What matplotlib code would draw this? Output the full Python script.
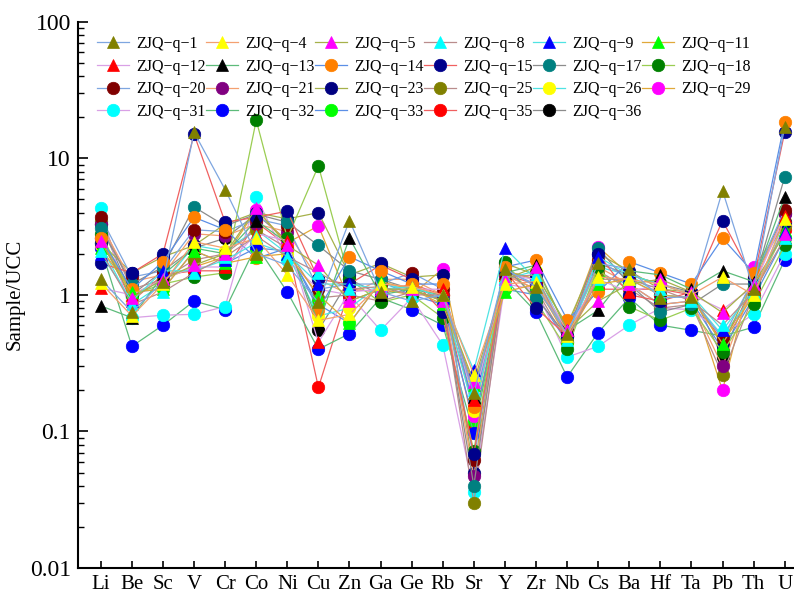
import numpy as np
import matplotlib
matplotlib.use('Agg')
import matplotlib.pyplot as plt
from matplotlib.ticker import LogLocator, NullFormatter, FixedLocator

plt.rcParams['font.family'] = ['Liberation Serif', 'DejaVu Serif']

elements = ['Li', 'Be', 'Sc', 'V', 'Cr', 'Co', 'Ni', 'Cu', 'Zn', 'Ga', 'Ge', 'Rb',
            'Sr', 'Y', 'Zr', 'Nb', 'Cs', 'Ba', 'Hf', 'Ta', 'Pb', 'Th', 'U']

samples = ['1', '4', '5', '8', '9', '11', '12', '13', '14', '15', '17', '18',
           '20', '21', '23', '25', '26', '29', '31', '32', '33', '35', '36']

# Sample/UCC values, one list per sample, in element order
q1 = [1.3, 0.75, 1.25, 15.5, 5.9, 2.0, 1.65, 0.88, 3.5, 1.05, 0.9, 1.0, 0.19, 1.55, 1.15, 0.52, 1.7, 1.55, 0.95, 0.97, 5.8, 1.1, 17]
q4 = [1.22, 0.7, 1.2, 2.45, 2.2, 2.6, 1.4, 0.65, 0.72, 1.2, 1.15, 1.0, 0.26, 1.2, 1.25, 0.5, 1.35, 1.3, 1.2, 1.0, 1.35, 1.0, 3.6]
q5 = [2.5, 0.95, 1.3, 1.65, 2.0, 4.3, 2.3, 1.65, 0.9, 1.1, 1.1, 0.9, 0.23, 1.3, 1.6, 0.55, 0.9, 1.2, 1.3, 1.05, 0.74, 1.2, 2.8]
q8 = [2.1, 0.85, 1.05, 1.45, 1.9, 2.7, 1.9, 1.45, 1.1, 1.15, 1.0, 1.0, 0.2, 1.35, 1.4, 0.47, 1.3, 1.3, 1.1, 0.9, 0.6, 1.05, 2.6]
q9 = [2.0, 0.9, 1.5, 1.5, 1.8, 2.4, 2.0, 1.2, 1.2, 1.1, 1.15, 0.95, 0.28, 2.2, 1.3, 0.5, 1.9, 1.4, 1.2, 1.0, 0.55, 1.1, 2.9]
q11 = [2.2, 1.05, 1.1, 2.1, 1.7, 1.9, 2.0, 1.0, 0.62, 1.25, 1.1, 0.85, 0.22, 1.05, 1.2, 0.48, 1.2, 1.3, 1.0, 0.95, 0.44, 1.0, 3.0]
q12 = [1.12, 1.0, 1.3, 1.6, 1.6, 2.8, 2.5, 0.45, 1.05, 1.1, 1.1, 1.1, 0.17, 1.4, 1.3, 0.55, 1.3, 1.05, 1.2, 1.0, 0.78, 1.15, 3.8]
q13 = [0.83, 0.68, 1.4, 2.2, 2.0, 3.5, 2.4, 0.62, 2.6, 1.0, 1.1, 1.0, 0.18, 1.45, 1.65, 0.55, 0.77, 1.5, 1.4, 1.1, 1.5, 1.25, 5.2]
q14 = [2.6, 1.1, 1.75, 3.7, 3.0, 1.85, 2.2, 0.78, 1.9, 1.5, 1.2, 1.2, 0.15, 1.6, 1.8, 0.66, 1.05, 1.75, 1.45, 1.2, 2.6, 1.45, 18.5]
q15 = [1.7, 1.45, 2.0, 15.0, 3.4, 3.7, 4.1, 1.3, 1.2, 1.65, 1.3, 0.75, 0.068, 1.5, 0.8, 0.5, 2.0, 1.0, 0.9, 1.05, 3.5, 1.3, 15.5]
q17 = [3.1, 1.2, 1.6, 4.4, 3.2, 3.9, 3.4, 2.3, 1.5, 1.3, 1.1, 0.9, 0.04, 1.6, 0.95, 0.5, 2.2, 1.2, 0.75, 0.85, 1.2, 1.2, 7.3]
q18 = [2.8, 1.0, 1.2, 1.35, 1.45, 19.0, 2.6, 8.8, 1.3, 0.88, 1.0, 0.68, 0.072, 1.75, 0.9, 0.4, 1.6, 0.82, 0.65, 0.8, 0.38, 0.85, 2.3]
q20 = [3.7, 1.35, 1.5, 3.0, 2.9, 3.6, 3.2, 1.1, 1.2, 1.2, 1.45, 1.1, 0.062, 1.5, 1.2, 0.55, 1.8, 1.3, 1.0, 0.95, 0.48, 1.3, 4.2]
q21 = [3.3, 1.25, 1.4, 2.8, 2.7, 3.3, 2.9, 1.3, 1.0, 1.3, 1.3, 1.0, 0.047, 1.4, 1.1, 0.55, 1.6, 1.2, 0.85, 0.9, 0.3, 1.2, 3.9]
q23 = [2.4, 1.45, 1.9, 2.3, 3.3, 4.0, 3.6, 4.0, 1.4, 1.7, 1.35, 1.4, 0.05, 1.7, 1.4, 0.6, 2.0, 1.5, 1.1, 1.05, 0.42, 1.35, 3.4]
q25 = [3.5, 1.1, 1.3, 1.8, 2.0, 3.0, 2.2, 0.95, 1.0, 0.9, 1.05, 0.95, 0.03, 1.4, 1.1, 0.45, 1.5, 1.1, 0.8, 0.85, 0.26, 1.0, 3.2]
q26 = [2.3, 0.85, 1.2, 2.3, 2.1, 3.0, 2.0, 0.7, 0.8, 1.2, 1.1, 1.0, 0.14, 1.3, 1.5, 0.5, 1.6, 1.4, 1.0, 0.95, 0.5, 1.0, 3.5]
q29 = [2.6, 1.0, 1.3, 1.6, 1.9, 4.2, 2.4, 3.2, 0.9, 1.1, 1.0, 1.55, 0.13, 1.5, 1.3, 0.55, 2.25, 1.4, 1.2, 1.0, 0.2, 1.6, 3.3]
q31 = [4.3, 0.68, 0.71, 0.72, 0.82, 5.2, 1.8, 1.1, 1.0, 0.55, 0.95, 0.43, 0.036, 1.2, 1.1, 0.35, 0.42, 0.6, 0.8, 0.78, 0.52, 0.72, 2.0]
q32 = [2.2, 0.42, 0.6, 0.9, 0.78, 2.3, 1.05, 0.4, 0.52, 0.95, 0.78, 0.6, 0.098, 1.3, 0.75, 0.25, 0.53, 0.95, 0.6, 0.55, 0.5, 0.58, 1.8]
q33 = [2.4, 1.05, 1.1, 2.1, 1.7, 2.2, 2.1, 0.85, 0.62, 1.25, 1.0, 0.85, 0.12, 1.1, 1.0, 0.45, 1.4, 1.2, 0.85, 0.9, 0.4, 0.95, 2.6]
q35 = [2.6, 0.9, 1.4, 1.5, 1.5, 3.4, 2.3, 0.21, 1.1, 1.05, 1.2, 1.0, 0.11, 1.4, 1.2, 0.55, 1.1, 1.1, 1.1, 1.0, 0.45, 1.1, 3.0]
q36 = [3.3, 1.0, 1.5, 2.2, 2.6, 3.9, 2.5, 0.55, 1.3, 1.0, 1.2, 0.9, 0.16, 1.5, 1.3, 0.5, 1.7, 1.4, 1.2, 1.05, 0.35, 1.3, 4.0]

values = [q1, q4, q5, q8, q9, q11, q12, q13, q14, q15, q17, q18,
          q20, q21, q23, q25, q26, q29, q31, q32, q33, q35, q36]

marker_colors = ['#808000', '#FFFF00', '#FF00FF', '#00FFFF', '#0000FF', '#00FF00',
                 '#FF0000', '#000000', '#FF8000', '#00008B', '#008080', '#008000',
                 '#800000', '#800080', '#000080', '#808000', '#FFFF00', '#FF00FF',
                 '#00FFFF', '#0000FF', '#00FF00', '#FF0000', '#000000']
line_cycle = ['#7EA6E0', '#F4A070', '#A6B14A', '#B98C8C', '#4FE3E3', '#E0A83A',
              '#D9A0E6', '#5DBB7A', '#5B8FE6', '#F06060', '#8C8C8C', '#9ACD52']

fig = plt.figure(figsize=(7.94, 5.97), dpi=100)
ax = fig.add_axes([0.098, 0.0486, 0.902, 0.915])

x = np.arange(len(elements))
handles = [None] * len(samples)
# draw last sample first so the first ones sit on top
for i in reversed(range(len(samples))):
    marker = '^' if i < 8 else 'o'
    h, = ax.plot(x, values[i], color=line_cycle[i % 12], lw=0.9,
                 marker=marker, ms=9, mfc=marker_colors[i], mec=marker_colors[i],
                 mew=0.5, label='ZJQ\u2212q\u2212' + samples[i])
    handles[i] = h

ax.set_yscale('log')
ax.set_ylim(0.01, 100)
ax.set_xlim(-0.74, 22.3)
ax.yaxis.set_major_locator(FixedLocator([0.01, 0.1, 1, 10, 100]))
ax.set_yticklabels(['0.01', '0.1', '1', '10', '100'])
ax.yaxis.set_minor_locator(LogLocator(base=10, subs=np.arange(2, 10)))
ax.yaxis.set_minor_formatter(NullFormatter())
ax.set_xticks(x)
ax.set_xticklabels(elements)

for s in ['top', 'right']:
    ax.spines[s].set_visible(False)
for s in ['left', 'bottom']:
    ax.spines[s].set_linewidth(1.5)

ax.tick_params(axis='y', which='major', direction='in', length=7, width=1.2, labelsize=17, pad=5)
ax.tick_params(axis='y', which='minor', direction='in', length=4, width=1.0)
ax.tick_params(axis='x', which='major', direction='in', length=5, width=1.2, labelsize=15, pad=5)
ax.set_ylabel('Sample/UCC', fontsize=15, labelpad=4)

# legend is filled row by row, matplotlib fills column by column
ncol = 6
order = []
for c in range(ncol):
    order += list(range(c, len(handles), ncol))
leg = fig.legend(handles=[handles[k] for k in order], ncol=ncol, loc='upper left',
                 bbox_to_anchor=(0.122, 0.94), frameon=False, fontsize=11.5,
                 handlelength=2.0, handletextpad=0.45, columnspacing=0.02,
                 labelspacing=0.42, borderaxespad=0, borderpad=0)

fig.savefig('out.png', dpi=100)
